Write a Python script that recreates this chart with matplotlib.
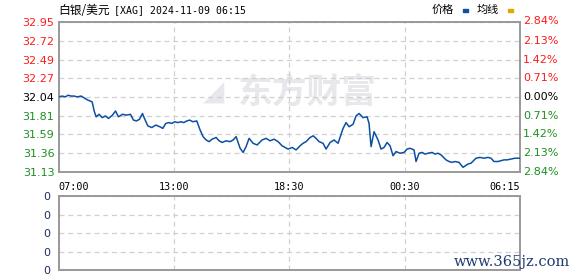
import matplotlib
matplotlib.use("Agg")
import matplotlib.pyplot as plt
import numpy as np

# ---- data ----
title_name = "白银/美元"
title_rest = "[XAG] 2024-11-09 06:15"
prev_close = 32.04
y_ticks = [32.95, 32.72, 32.49, 32.27, 32.04, 31.81, 31.59, 31.36, 31.13]
pct_labels = ["2.84%", "2.13%", "1.42%", "0.71%", "0.00%", "0.71%", "1.42%", "2.13%", "2.84%"]
x_tick_labels = ["07:00", "13:00", "18:30", "00:30", "06:15"]
vol_labels = ["0", "0", "0", "0", "0"]
legend_labels = ["价格", "均线"]

minutes = [0, 11, 20, 29, 38, 47, 56, 68,
           80, 89, 101,
           107, 113, 122,
           131, 141, 150, 162, 171,
           180, 192, 204, 216,
           225, 234, 243,
           252, 258,
           268, 280, 292, 304, 313,
           322, 331, 340, 349, 358, 367, 376,
           385, 394, 403, 415,
           425, 434,
           443, 452, 461, 473,
           482, 491, 503, 515, 524,
           533,
           545, 554,
           563, 572,
           584, 596,
           611, 623, 635, 647, 659,
           671, 680, 689, 701, 713,
           725, 734, 743,
           755, 764, 773,
           782, 794,
           803,
           815, 827,
           839,
           854,
           863, 872, 884,
           893, 902,
           914, 926,
           932,
           938,
           947,
           959,
           968, 977,
           986, 995,
           1004,
           1013, 1025, 1037,
           1046, 1055, 1067,
           1073,
           1082, 1091, 1100, 1109,
           1121, 1130, 1139, 1148,
           1163,
           1172, 1181, 1190, 1202,
           1214,
           1229, 1238,
           1253, 1265, 1277, 1289, 1298,
           1307, 1319,
           1328, 1337, 1346, 1358,
           1370, 1383]

prices = [32.04, 32.05, 32.04, 32.06, 32.05, 32.05, 32.04, 32.05,
          32.02, 32.00, 31.98,
          31.87, 31.80, 31.83,
          31.79, 31.81, 31.78, 31.82, 31.87,
          31.80, 31.83, 31.82, 31.83,
          31.76, 31.75, 31.77,
          31.84, 31.78,
          31.69, 31.67, 31.70, 31.68, 31.66,
          31.72, 31.73, 31.72, 31.74, 31.73, 31.74, 31.73,
          31.75, 31.76, 31.74, 31.75,
          31.64, 31.56,
          31.52, 31.50, 31.53, 31.55,
          31.51, 31.49, 31.51, 31.50, 31.52,
          31.56,
          31.42, 31.37,
          31.44, 31.54,
          31.48, 31.46,
          31.52, 31.54, 31.51, 31.53, 31.50,
          31.45, 31.43, 31.41, 31.43, 31.40,
          31.45, 31.48, 31.50,
          31.55, 31.57, 31.54,
          31.50, 31.48,
          31.41,
          31.49, 31.52,
          31.48,
          31.66,
          31.73, 31.68, 31.71,
          31.81, 31.84,
          31.79, 31.80,
          31.72,
          31.44,
          31.62,
          31.52,
          31.41, 31.43,
          31.49, 31.45,
          31.33,
          31.38, 31.36, 31.37,
          31.41, 31.42, 31.40,
          31.26,
          31.36, 31.37, 31.35, 31.36,
          31.37, 31.35, 31.36, 31.34,
          31.28,
          31.26, 31.25, 31.26, 31.25,
          31.19,
          31.23, 31.24,
          31.30, 31.31, 31.30, 31.31, 31.30,
          31.26, 31.26,
          31.27, 31.28, 31.28, 31.29,
          31.30, 31.30]

X_END = 1385

# ---- figure ----
W, H = 578, 276
fig = plt.figure(figsize=(W / 100, H / 100), dpi=100)
fig.patch.set_facecolor("white")

def fx(px):
    return px / W

def fy(py):
    return 1 - py / H

ax = fig.add_axes([fx(58.5), fy(172.3), fx(520 - 58.5), fy(21.5) - fy(172.3)])
axv = fig.add_axes([fx(58.5), fy(270), fx(520 - 58.5), fy(196.3) - fy(270)])

LINE = "#0d4fa3"
GRID = "#d0d0d0"
SPINE = "#999999"
RED = "#ff1a1a"
GREEN = "#1f8f1f"

ax.plot(minutes, prices, color=LINE, lw=1.1, zorder=3)
ax.set_xlim(0, X_END)
ax.set_ylim(y_ticks[-1], y_ticks[0])

xt = np.linspace(0, X_END, len(x_tick_labels))
for a in (ax, axv):
    a.set_xticks(xt)
    a.grid(True, color=GRID, ls=(0, (4, 3)), lw=0.9)
    for s in a.spines.values():
        s.set_color(SPINE)
        s.set_linewidth(1.4)
    a.tick_params(length=0)
    a.set_facecolor("white")

ax.set_yticks(y_ticks)
ax.set_yticklabels([f"{v:.2f}" for v in y_ticks])
ax.set_xticklabels([])
ax.tick_params(axis="y", labelsize=8, pad=3)
for i, lab in enumerate(ax.get_yticklabels()):
    v = y_ticks[i]
    lab.set_color(RED if v > prev_close else ("black" if v == prev_close else GREEN))
    lab.set_fontfamily("DejaVu Sans")

# right percent labels
for v, t in zip(y_ticks, pct_labels):
    c = RED if v > prev_close else ("black" if v == prev_close else GREEN)
    ax.text(1.007, v, t, transform=ax.get_yaxis_transform(), ha="left", va="center",
            fontsize=8, color=c, family="DejaVu Sans")

# bottom time labels
has = ["left", "center", "center", "center", "right"]
for x, t, h in zip(xt, x_tick_labels, has):
    ax.text(x, -0.065, t, transform=ax.get_xaxis_transform(), ha=h, va="top",
            fontsize=7.3, family="DejaVu Sans Mono", color="black")

# volume panel
axv.set_xlim(0, X_END)
axv.set_ylim(0, 4)
axv.set_yticks(range(5))
axv.set_yticklabels(vol_labels)
axv.set_xticklabels([])
axv.tick_params(axis="y", labelsize=8, pad=6, labelcolor="#1c2f5e")

# title
fig.text(fx(58), fy(10), title_name, ha="left", va="center", fontsize=8.5,
         family=["Noto Sans CJK SC"], color="black")
fig.text(fx(114), fy(10), title_rest, ha="left", va="center", fontsize=7.1,
         family=["DejaVu Sans Mono"], color="black")

# legend
fig.text(fx(432), fy(10), legend_labels[0], ha="left", va="center", fontsize=8,
         family=["Noto Sans CJK SC"], color="black")
fig.patches.append(plt.Rectangle((fx(462.5), fy(11.5)), fx(5), fy(9) - fy(11.5),
                                 transform=fig.transFigure, color="#0d4fa3", figure=fig))
fig.text(fx(477), fy(10), legend_labels[1], ha="left", va="center", fontsize=8,
         family=["Noto Sans CJK SC"], color="black")
fig.patches.append(plt.Rectangle((fx(508), fy(11.5)), fx(5), fy(9) - fy(11.5),
                                 transform=fig.transFigure, color="#e0a800", figure=fig))

# watermark
ax.set_zorder(1)
ax.patch.set_alpha(0)
fig.text(fx(238), fy(92), "东方财富", ha="left", va="center", fontsize=25,
         family=["Noto Sans CJK SC"], weight="bold", color="#e8e8ec", zorder=0)
fig.text(fx(214), fy(92), "◢", ha="center", va="center", fontsize=20,
         family=["DejaVu Sans"], color="#e8e8ec", zorder=0)

fig.text(fx(570), fy(262), "www.365jz.com", ha="right", va="center", fontsize=10.5,
         family=["DejaVu Serif"], color="#1f3a6e")

fig.savefig("out.png", dpi=100, facecolor="white")
